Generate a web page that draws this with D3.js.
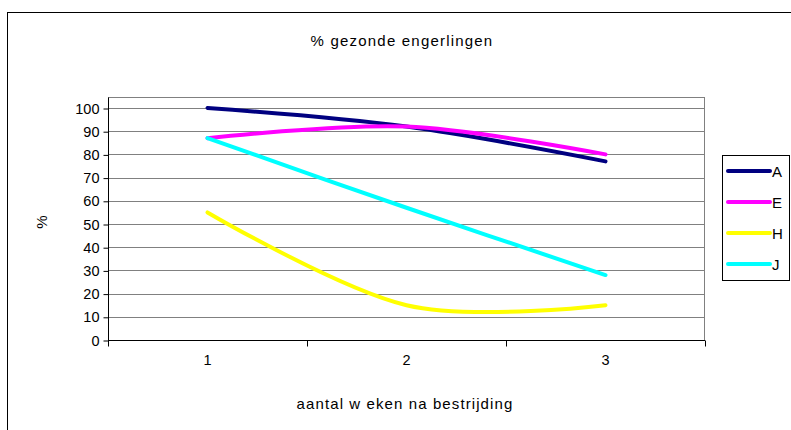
<!DOCTYPE html>
<html>
<head>
<meta charset="utf-8">
<script src="https://cdn.jsdelivr.net/npm/d3@7"></script>
<style>
  html, body { margin: 0; padding: 0; background: #fff; }
  svg { display: block; font-family: "Liberation Sans", Arial, sans-serif; }
</style>
</head>
<body>
<svg id="chart" width="791" height="430"></svg>
<script>
const title = "% gezonde engerlingen";
const xTitle = "aantal w eken na bestrijding";
const yTitle = "%";
const categories = ["1", "2", "3"];
const yTicks = [0, 10, 20, 30, 40, 50, 60, 70, 80, 90, 100];
const seriesNames = ["A", "E", "H", "J"];
const seriesColors = ["#000080", "#FF00FF", "#FFFF00", "#00FFFF"];
const valuesA = [100, 92, 77];
const valuesE = [87, 92, 80];
const valuesH = [55, 15, 15];
const valuesJ = [87, 57, 28];
const seriesValues = [valuesA, valuesE, valuesH, valuesJ];

const svg = d3.select("#chart");
const plotL = 108, plotR = 705, plotT = 97, plotB = 340;
const FONT = "Liberation Sans, Arial, sans-serif";

// outer border
svg.append("rect").attr("x", 7.5).attr("y", 12.5).attr("width", 800).attr("height", 440)
  .attr("fill", "none").attr("stroke", "#000").attr("stroke-width", 1);

svg.append("text").attr("x", 402).attr("y", 46).attr("text-anchor", "middle")
  .attr("font-size", 15).attr("letter-spacing", "1.2px").text(title);

const xBand = d3.scaleBand().domain(categories).range([plotL, plotR]);
const x = d3.scalePoint().domain(categories).range([plotL, plotR]).padding(0.5);
const y = d3.scaleLinear().domain([0, 100]).range([plotB, 108]);

// plot frame
svg.append("rect").attr("x", plotL + 0.5).attr("y", plotT + 0.5)
  .attr("width", plotR - plotL - 1).attr("height", plotB - plotT)
  .attr("fill", "none").attr("stroke", "#808080");

// gridlines
svg.append("g").selectAll("line").data(yTicks.filter(d => d > 0)).join("line")
  .attr("x1", plotL).attr("x2", plotR)
  .attr("y1", d => Math.round(y(d)) + 0.5).attr("y2", d => Math.round(y(d)) + 0.5)
  .attr("stroke", "#808080");

// y axis
const yAxis = d3.axisLeft(y).tickValues(yTicks).tickSize(5).tickPadding(4);
const gy = svg.append("g").attr("transform", `translate(${plotL + 0.5},0.5)`).call(yAxis);
gy.select(".domain").attr("d", `M0,${plotT}V${plotB}`).attr("stroke", "#000");
gy.selectAll(".tick line").attr("stroke", "#000");
gy.selectAll(".tick text").attr("font-size", 14.5).attr("font-family", FONT).attr("fill", "#000");

// x axis
const xAxis = d3.axisBottom(xBand).tickSize(0).tickPadding(14);
const gx = svg.append("g").attr("transform", `translate(0,${plotB + 0.5})`).call(xAxis);
gx.select(".domain").attr("d", `M${plotL},0H${plotR}`).attr("stroke", "#000");
gx.selectAll(".tick text").attr("font-size", 14.5).attr("font-family", FONT).attr("fill", "#000");
gx.append("g").selectAll("line").data([plotL, ...categories.map(c => xBand(c) + xBand.bandwidth())]).join("line")
  .attr("x1", d => Math.round(d) + 0.5).attr("x2", d => Math.round(d) + 0.5)
  .attr("y1", 0).attr("y2", 6).attr("stroke", "#000");

svg.append("text").attr("x", 405).attr("y", 409).attr("text-anchor", "middle")
  .attr("font-size", 15).attr("letter-spacing", "1.1px").text(xTitle);
svg.append("text").attr("transform", "translate(47,222) rotate(-90)")
  .attr("text-anchor", "middle").attr("font-size", 15).text(yTitle);

// series
const line = d3.line().x((d, i) => x(categories[i])).y(d => y(d)).curve(d3.curveCardinal.tension(0));
svg.append("g").selectAll("path").data(seriesValues).join("path")
  .attr("d", d => line(d)).attr("fill", "none")
  .attr("stroke", (d, i) => seriesColors[i]).attr("stroke-width", 4)
  .attr("stroke-linecap", "round").attr("stroke-linejoin", "round");

// legend
const lg = svg.append("g");
lg.append("rect").attr("x", 722.5).attr("y", 155.5).attr("width", 67).attr("height", 125)
  .attr("fill", "#fff").attr("stroke", "#000");
const ly = d3.scalePoint().domain(seriesNames).range([171, 264]);
seriesNames.forEach((n, i) => {
  lg.append("line").attr("x1", 728).attr("x2", 770).attr("y1", ly(n)).attr("y2", ly(n))
    .attr("stroke", seriesColors[i]).attr("stroke-width", 4).attr("stroke-linecap", "round");
  lg.append("text").attr("x", 772).attr("y", ly(n) + 5.5).attr("font-size", 15).text(n);
});
</script>
</body>
</html>
